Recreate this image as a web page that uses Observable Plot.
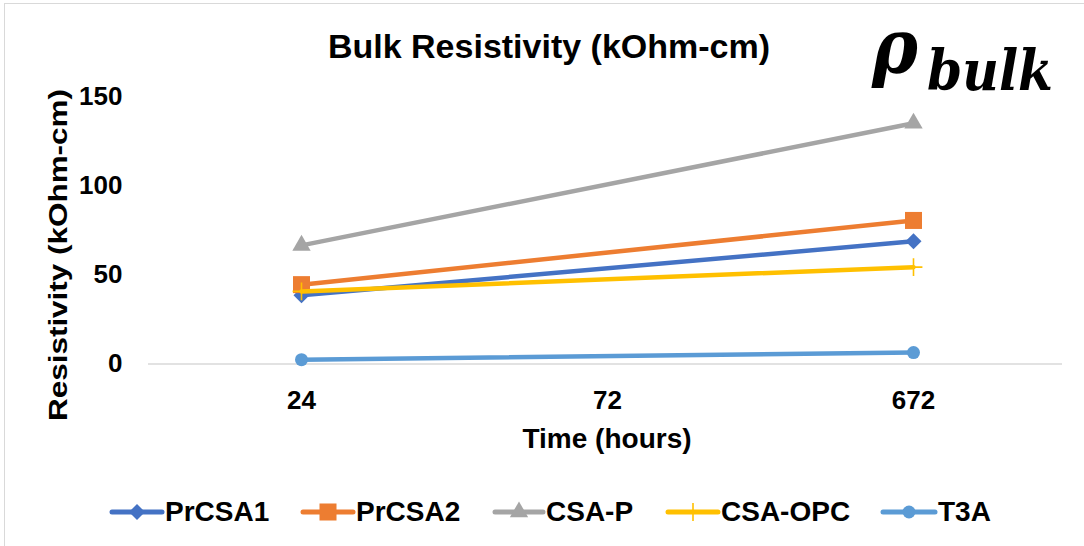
<!DOCTYPE html>
<html>
<head>
<meta charset="utf-8">
<script src="https://cdn.jsdelivr.net/npm/d3@7"></script>
<script src="https://cdn.jsdelivr.net/npm/@observablehq/plot@0.6"></script>
<style>
  html, body { margin: 0; padding: 0; background: #fff; }
  #wrap { position: relative; width: 1084px; height: 546px; overflow: hidden;
          font-family: "Liberation Sans", Arial, sans-serif; }
  #frame { position: absolute; left: 4px; top: 3px; width: 1300px; height: 800px;
           border-top: 1.5px solid #d9d9d9; border-left: 1.5px solid #d9d9d9; }
  #wrap > svg { position: absolute; left: 0; top: 0; }
</style>
</head>
<body>
<div id="wrap"><div id="frame"></div></div>
<script>
// ---- data ----
const timeCategories = ["24", "72", "672"];
const measuredTimes = ["24", "672"];
const seriesNames = ["PrCSA1", "PrCSA2", "CSA-P", "CSA-OPC", "T3A"];
const prcsa1Values = [38.5, 68.8];
const prcsa2Values = [44.5, 80.5];
const csaPValues = [66.5, 135];
const csaOpcValues = [40.7, 54.3];
const t3aValues = [2.4, 6.4];
const yTickValues = [0, 50, 100, 150];
const titleText = "Bulk Resistivity (kOhm-cm)";
const yLabelText = "Resistivity (kOhm-cm)";
const xLabelText = "Time (hours)";

// ---- styles ----
const seriesColors = ["#4472C4", "#ED7D31", "#A5A5A5", "#FFC000", "#5B9BD5"];
const seriesSymbols = ["diamond2", "square", "triangle", "plus", "circle"];
const seriesR = [7.2, 9.6, 6.8, 5.8, 6.5];
const seriesValues = [prcsa1Values, prcsa2Values, csaPValues, csaOpcValues, t3aValues];

const rows = [];
seriesNames.forEach((s, i) => {
  measuredTimes.forEach((t, j) => rows.push({series: s, time: t, value: seriesValues[i][j]}));
});

const W = 1084, H = 546;
const y0 = 363.5, y150 = 96;

const marks = [
  Plot.ruleY([0], {stroke: "#d9d9d9", strokeWidth: 1.5}),
  Plot.axisY({ticks: yTickValues, tickSize: 0, tickPadding: 26, fontSize: 26, fontWeight: "bold", label: null}),
  Plot.axisX({tickSize: 0, tickPadding: 27, fontSize: 26, fontWeight: "bold", label: null})
];
seriesNames.forEach((s, i) => {
  const d = rows.filter(r => r.series === s);
  marks.push(Plot.line(d, {x: "time", y: "value", stroke: seriesColors[i], strokeWidth: 4.5,
    strokeLinecap: "round", strokeLinejoin: "round"}));
  const isStroke = seriesSymbols[i] === "plus";
  marks.push(Plot.dot(d, {x: "time", y: "value", symbol: seriesSymbols[i], r: seriesR[i],
    fill: isStroke ? "none" : seriesColors[i], stroke: isStroke ? seriesColors[i] : "none",
    strokeWidth: isStroke ? 1.6 : 0}));
});

const chart = Plot.plot({
  width: W, height: H,
  marginLeft: 148, marginRight: 22, marginTop: y150, marginBottom: H - y0,
  x: {type: "point", domain: timeCategories, range: [301, 913], padding: 0},
  y: {domain: [0, 150], range: [y0, y150]},
  style: {fontFamily: '"Liberation Sans", Arial, sans-serif', color: "#000", background: "transparent", overflow: "visible"},
  marks
});
document.getElementById("wrap").appendChild(chart);

// ---- overlay texts and legend ----
const ov = d3.select("#wrap").append("svg")
  .attr("width", W).attr("height", H)
  .style("font-family", '"Liberation Sans", Arial, sans-serif');

ov.append("text").attr("x", 549).attr("y", 58).attr("text-anchor", "middle")
  .attr("font-size", 34).attr("font-weight", "bold").attr("fill", "#000").text(titleText);

ov.append("text").attr("transform", "translate(67,255) rotate(-90)").attr("text-anchor", "middle")
  .attr("font-size", 25).attr("font-weight", "bold").attr("fill", "#000")
  .attr("textLength", 332).attr("lengthAdjust", "spacingAndGlyphs").text(yLabelText);

ov.append("text").attr("x", 607).attr("y", 448).attr("text-anchor", "middle")
  .attr("font-size", 28).attr("font-weight", "bold").attr("fill", "#000").text(xLabelText);

// rho_bulk formula
const rho = ov.append("g").style("font-family", '"DejaVu Serif", serif')
  .attr("font-weight", "bold").attr("font-style", "italic").attr("fill", "#000");
rho.append("text").attr("x", 872).attr("y", 72).attr("font-size", 74)
  .attr("textLength", 46).attr("lengthAdjust", "spacingAndGlyphs").text("ρ");
rho.append("text").attr("x", 927).attr("y", 90).attr("font-size", 56)
  .attr("textLength", 126).attr("lengthAdjust", "spacingAndGlyphs").text("bulk");

// legend
const legendLineX = [[112, 162], [303, 353], [495, 543], [668, 718], [883, 935]];
const legendY = 512;
const symMap = {diamond2: d3.symbolDiamond2, square: d3.symbolSquare, triangle: d3.symbolTriangle,
                plus: d3.symbolPlus, circle: d3.symbolCircle};
seriesNames.forEach((s, i) => {
  const [a, b] = legendLineX[i];
  const g = ov.append("g");
  g.append("line").attr("x1", a).attr("x2", b).attr("y1", legendY).attr("y2", legendY)
    .attr("stroke", seriesColors[i]).attr("stroke-width", 5).attr("stroke-linecap", "round");
  const isStroke = seriesSymbols[i] === "plus";
  const r = seriesR[i];
  g.append("path").attr("transform", `translate(${(a + b) / 2},${legendY})`)
    .attr("d", d3.symbol(symMap[seriesSymbols[i]], Math.PI * r * r)())
    .attr("fill", isStroke ? "none" : seriesColors[i])
    .attr("stroke", isStroke ? seriesColors[i] : "none").attr("stroke-width", 1.6);
  g.append("text").attr("x", b + 3).attr("y", 521).attr("font-size", 28).attr("font-weight", "bold")
    .attr("fill", "#000").text(s);
});
</script>
</body>
</html>
